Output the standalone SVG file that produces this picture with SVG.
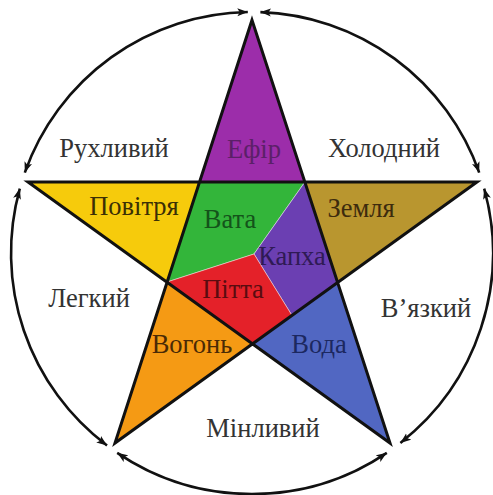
<svg xmlns="http://www.w3.org/2000/svg" width="493" height="495" viewBox="0 0 493 495">
<style>
text{font-family:"Liberation Serif","Times New Roman",serif;font-size:26.5px;text-anchor:middle}
.out{fill:#333}
.arc{fill:none;stroke:#111;stroke-width:2.6;marker-start:url(#ah);marker-end:url(#ah)}
.seg{stroke:#eee;stroke-width:0.7;stroke-opacity:0.7}
</style>
<defs>
<marker id="ah" markerUnits="userSpaceOnUse" markerWidth="11" markerHeight="9" refX="10.5" refY="4.5" orient="auto-start-reverse">
<path d="M0,0.5 L10.5,4.5 L0,8.5 L2.5,4.5 z" fill="#111"/>
</marker>
</defs>
<rect width="493" height="495" fill="#fff"/>
<g id="connectors">
<path class="arc" d="M260.4,12.1 A241,241 0 0 1 479.2,172.6"/>
<path class="arc" d="M484.2,188.6 A241,241 0 0 1 400.4,442.9"/>
<path class="arc" d="M386.8,452.8 A241,241 0 0 1 117.2,452.8"/>
<path class="arc" d="M107,445.5 A241,241 0 0 1 19.8,188.6"/>
<path class="arc" d="M24.8,172.6 A241,241 0 0 1 247.8,12"/>
</g>
<g id="efir"><polygon points="252,20 304.9,182 199.5,182" fill="#9C2DAA"/><text x="254" y="158" fill="#5b2068">Ефір</text></g>
<g id="povitria"><polygon points="28,182 199.5,182 167,282" fill="#F6CB0C"/><text x="134" y="215" fill="#3b2f05">Повітря</text></g>
<g id="zemlia"><polygon points="304.9,182 477,182 337.5,282.6" fill="#B9962F"/><text x="361" y="217" fill="#3d2b0d">Земля</text></g>
<g id="vohon"><polygon points="167,282 252.5,344 115,443" fill="#F59A14"/><text x="192" y="353" fill="#4a2a05">Вогонь</text></g>
<g id="voda"><polygon points="337.5,282.6 390,443 252.5,344" fill="#5167C2"/><text x="319" y="353" fill="#1c2860">Вода</text></g>
<g id="vata"><polygon class="seg" points="199.5,182 304.9,182 254,254 167,282" fill="#33B53A"/><text x="230" y="228" fill="#14531a">Вата</text></g>
<g id="kapkha"><polygon class="seg" points="304.9,182 337.5,282.6 292,315.5 254,254" fill="#6B3FB2"/><text x="292" y="265" fill="#2f1a55">Капха</text></g>
<g id="pitta"><polygon class="seg" points="167,282 254,254 292,315.5 252.5,344" fill="#E42129"/><text x="233" y="298" fill="#5a0c10">Пітта</text></g>
<g id="star"><path d="M252,20 L115,443 L477,182 L28,182 L390,443 Z" fill="none" stroke="#111" stroke-width="3" stroke-linejoin="miter" stroke-miterlimit="10"/></g>
<g id="ruhlyvyi"><text class="out" x="114" y="157">Рухливий</text></g>
<g id="holodnyi"><text class="out" x="384" y="157">Холодний</text></g>
<g id="lehkyi"><text class="out" x="89" y="307">Легкий</text></g>
<g id="viazkyi"><text class="out" x="426" y="317">В’язкий</text></g>
<g id="minlyvyi"><text class="out" x="263" y="437">Мінливий</text></g>
</svg>
